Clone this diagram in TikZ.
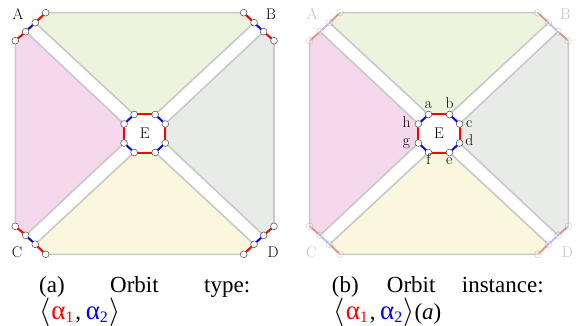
\documentclass[tikz,border=0pt]{standalone}
\usepackage{fontspec}
\newfontfamily\capfont{Liberation Serif}
\definecolor{regpink}{RGB}{245,216,235}
\definecolor{reggreen}{RGB}{236,244,222}
\definecolor{reggray}{RGB}{233,235,233}
\definecolor{regyellow}{RGB}{250,247,221}
\definecolor{outl}{RGB}{200,200,200}
\tikzset{
 region/.style={draw=outl, line width=1.6pt, line join=round},
 redge/.style={draw=red, line width=2pt},
 bedge/.style={draw=blue, line width=2pt},
 vtx/.style={circle, draw=black!70, fill=white, inner sep=0pt, minimum size=6.8pt, line width=0.5pt},
 lbl/.style={font=\fontsize{15.5}{16}\selectfont, inner sep=0pt},
 vlbl/.style={font=\fontsize{15.5}{16}\selectfont, inner sep=0pt, anchor=base},
 captxt/.style={font=\capfont\fontsize{23}{27}\selectfont, inner sep=0pt, anchor=base west},
}
\newcommand\capsub[1]{\raisebox{-0.17em}{\fontsize{16}{16}\selectfont #1}}
\newcommand\calpha{{\fontsize{27}{27}\selectfont α}}
\newcommand\orbtype{\scalebox{1.15}{$\langle$}\hspace{0.05em}\textcolor{red}{\calpha\capsub{1}}\hspace{0.08em},\hspace{0.2em}\textcolor{blue}{\calpha\capsub{2}}\hspace{0.05em}\scalebox{1.15}{$\rangle$}}
\newcommand\drawpanel[2]{%
 \coordinate (#1p1) at (-129.35,-92.8);
 \coordinate (#1p2) at (-119,-101.8);
 \coordinate (#1p3) at (-109.4,-110.8);
 \coordinate (#1p4) at (-99,-120.8);
 \coordinate (#1q1) at (129.35,-92.8);
 \coordinate (#1q2) at (119,-101.8);
 \coordinate (#1q3) at (109.4,-110.8);
 \coordinate (#1q4) at (99,-120.8);
 \coordinate (#1r1) at (-129.35,92.8);
 \coordinate (#1r2) at (-119,101.8);
 \coordinate (#1r3) at (-109.4,110.8);
 \coordinate (#1r4) at (-99,120.8);
 \coordinate (#1s1) at (129.35,92.8);
 \coordinate (#1s2) at (119,101.8);
 \coordinate (#1s3) at (109.4,110.8);
 \coordinate (#1s4) at (99,120.8);
 \coordinate (#1a) at (-10.5,-19);
 \coordinate (#1b) at (10.5,-19);
 \coordinate (#1c) at (20.6,-9.5);
 \coordinate (#1d) at (20.6,9.5);
 \coordinate (#1e) at (10.5,19);
 \coordinate (#1f) at (-10.5,19);
 \coordinate (#1g) at (-20.6,9.5);
 \coordinate (#1h) at (-20.6,-9.5);
 \path[region, fill=reggreen] (#1p4) -- (#1q4) -- (#1q3) -- (#1b) -- (#1a) -- (#1p3) -- cycle;
 \path[region, fill=reggray] (#1q1) -- (#1s1) -- (#1s2) -- (#1d) -- (#1c) -- (#1q2) -- cycle;
 \path[region, fill=regyellow] (#1r4) -- (#1s4) -- (#1s3) -- (#1e) -- (#1f) -- (#1r3) -- cycle;
 \path[region, fill=regpink] (#1p1) -- (#1r1) -- (#1r2) -- (#1g) -- (#1h) -- (#1p2) -- cycle;
 \begin{scope}[opacity=#2]
 \foreach \k in {p,q,r,s}{
  \draw[redge] (#1\k1) -- (#1\k2);
  \draw[bedge] (#1\k2) -- (#1\k3);
  \draw[redge] (#1\k3) -- (#1\k4);
  \foreach \i in {1,2,3,4}{\node[vtx] (#1v\k\i) at (#1\k\i) {};}
 }
 \node[lbl] (#1A) at (-126.65,-119.5) {A};
 \node[lbl] (#1B) at (126.35,-119.5) {B};
 \node[lbl] (#1C) at (-127.65,118.5) {C};
 \node[lbl] (#1D) at (128.35,118.5) {D};
 \end{scope}
 \draw[redge] (#1a) -- (#1b);
 \draw[bedge] (#1b) -- (#1c);
 \draw[redge] (#1c) -- (#1d);
 \draw[bedge] (#1d) -- (#1e);
 \draw[redge] (#1e) -- (#1f);
 \draw[bedge] (#1f) -- (#1g);
 \draw[redge] (#1g) -- (#1h);
 \draw[bedge] (#1h) -- (#1a);
 \foreach \i in {a,b,c,d,e,f,g,h}{\node[vtx] (#1o\i) at (#1\i) {};}
 \node[lbl] (#1E) at (0,0) {E};
}
\begin{document}
\begin{tikzpicture}[x=1pt,y=-1pt]
\useasboundingbox (0,0) rectangle (578,326);
\begin{scope}[shift={(144.65,133.5)}]
 \drawpanel{L}{1}
\end{scope}
\begin{scope}[shift={(439,133.5)}]
 \drawpanel{R}{0.25}
 \node[vlbl] (la) at (-10.5,-24.5) {a};
 \node[vlbl] (lb) at (10.5,-24.5) {b};
 \node[vlbl] (lc) at (30.3,-5.8) {c};
 \node[vlbl] (ld) at (30.3,12.5) {d};
 \node[vlbl] (le) at (10.3,30.8) {e};
 \node[vlbl] (lf) at (-10.5,31) {f};
 \node[vlbl] (lg) at (-32.5,11.7) {g};
 \node[vlbl] (lh) at (-32.5,-5.8) {h};
\end{scope}
\node[captxt] (ca1) at (39,292) {(a)};
\node[captxt] (ca2) at (110,292) {Orbit};
\node[captxt] (ca3) at (204,292) {type:};
\node[captxt] (ca4) at (39,319) {\orbtype};
\node[captxt] (cb1) at (331.7,292) {(b)};
\node[captxt] (cb2) at (386.7,292) {Orbit};
\node[captxt] (cb3) at (461.7,292) {instance:};
\node[captxt] (cb4) at (333.3,319) {\orbtype(\textit{a})};
\end{tikzpicture}
\end{document}
